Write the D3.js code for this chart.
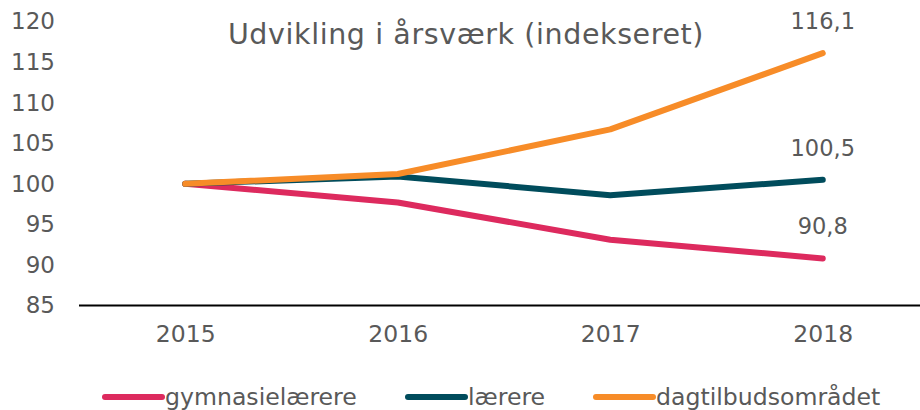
<!DOCTYPE html>
<html><head><meta charset="utf-8">
<script src="https://cdn.jsdelivr.net/npm/d3@7"></script>
<style>
html,body{margin:0;padding:0;background:#fff;}
svg{display:block;font-family:"DejaVu Sans",Verdana,sans-serif;}
</style></head>
<body>
<svg id="c" width="920" height="410"></svg>
<script>
const years = ["2015","2016","2017","2018"];
const seriesNames = ["gymnasielærere","lærere","dagtilbudsområdet"];
const gymnasielaerere = [100, 97.7, 93.1, 90.8];
const laerere = [100, 100.9, 98.6, 100.5];
const dagtilbud = [100, 101.2, 106.7, 116.1];
const yTicks = [85, 90, 95, 100, 105, 110, 115, 120];
const endLabels = ["90,8", "100,5", "116,1"];
const title = "Udvikling i årsværk (indekseret)";
const colors = ["#DD2A5E", "#004C5C", "#F78C28"];

const seriesValues = [gymnasielaerere, laerere, dagtilbud];
const svg = d3.select("#c");
const x = d3.scalePoint().domain(years).range([79, 929]).padding(0.5);
const y = d3.scaleLinear().domain([85, 120]).range([305.5, 21.5]);
const textColor = "#595959";
const fs = "23px";

// y axis labels
const yAxis = d3.axisLeft(y).tickValues(yTicks).tickSize(0).tickPadding(0).tickFormat(d3.format("d"));
const yg = svg.append("g").attr("transform", "translate(55,0)").call(yAxis);
yg.select(".domain").remove();
yg.selectAll("text").attr("fill", textColor).style("font-size", fs).style("font-family", "DejaVu Sans, Verdana, sans-serif");

// x axis
const xAxis = d3.axisBottom(x).tickSize(0).tickPadding(20);
const xg = svg.append("g").attr("transform", "translate(0,305.5)").call(xAxis);
xg.select(".domain").remove();
xg.selectAll("text").attr("fill", textColor).style("font-size", "23.5px").style("font-family", "DejaVu Sans, Verdana, sans-serif");
svg.append("line").attr("x1", 79).attr("x2", 920).attr("y1", y(85)).attr("y2", y(85))
  .attr("stroke", "#000").attr("stroke-width", 2);

// lines
const line = d3.line().x((d, i) => x(years[i])).y(d => y(d));
[0, 1, 2].forEach(k => {
  svg.append("path").datum(seriesValues[k]).attr("d", line)
    .attr("fill", "none").attr("stroke", colors[k]).attr("stroke-width", 6)
    .attr("stroke-linecap", "round").attr("stroke-linejoin", "round");
});

// end labels
[0, 1, 2].forEach(k => {
  const v = seriesValues[k][3];
  svg.append("text").attr("x", x(years[3])).attr("y", y(v) - 24)
    .attr("text-anchor", "middle").attr("fill", textColor)
    .style("font-size", "22.5px").text(endLabels[k]);
});

// title
svg.append("text").attr("x", 466).attr("y", 44).attr("text-anchor", "middle")
  .attr("fill", textColor).style("font-size", "28.5px").style("letter-spacing", "0.6px").text(title);

// legend
const legendX = [105, 408, 596];
const lg = svg.append("g");
seriesNames.forEach((n, k) => {
  lg.append("line").attr("x1", legendX[k]).attr("x2", legendX[k] + 57)
    .attr("y1", 397).attr("y2", 397).attr("stroke", colors[k]).attr("stroke-width", 6)
    .attr("stroke-linecap", "round");
  lg.append("text").attr("x", legendX[k] + 60).attr("y", 405).attr("fill", textColor)
    .style("font-size", "23.6px").text(n);
});
</script>
</body></html>
